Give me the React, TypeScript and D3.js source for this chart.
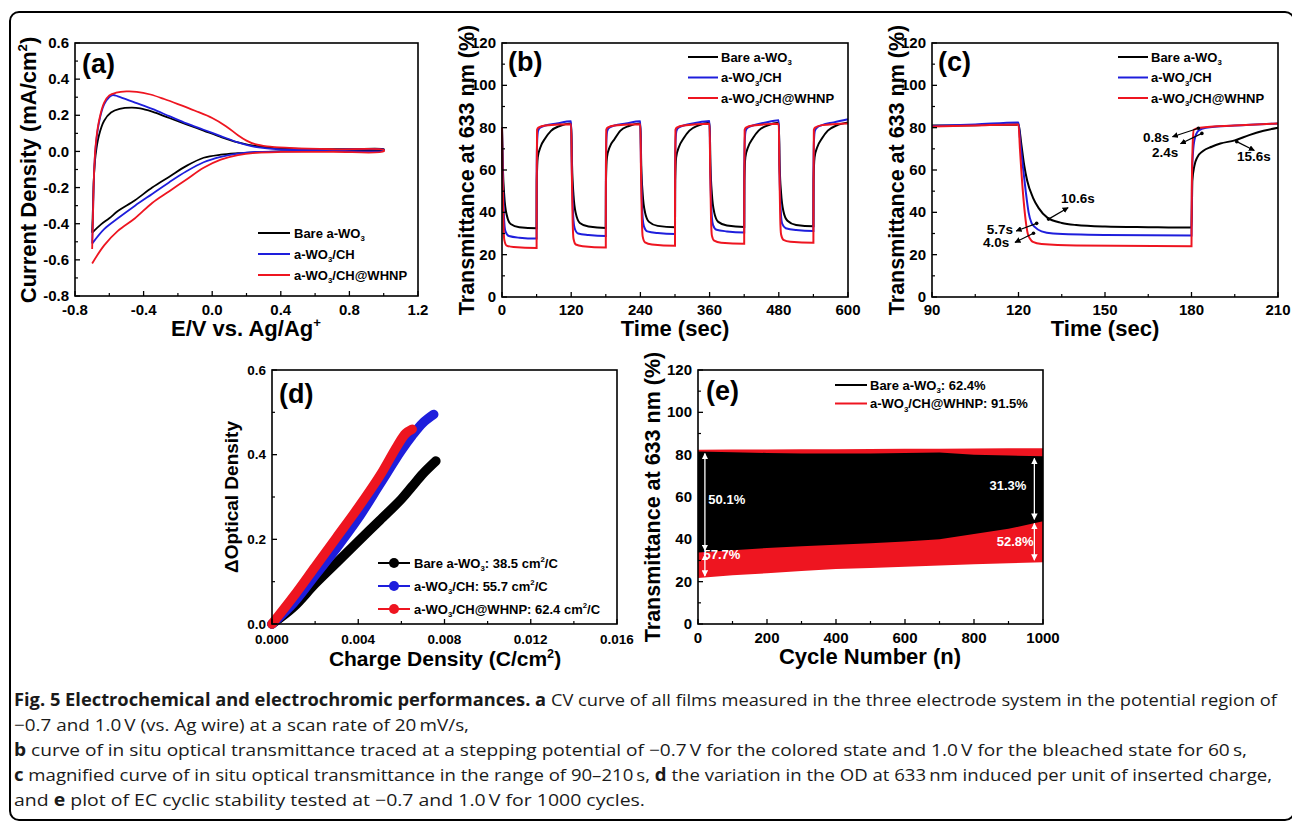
import React from "react";
import * as d3 from "d3";

type Pt = [number, number];
type Seg = { t: string; sub?: boolean; sup?: boolean };

const BLACK = "#000000";
const BLUE = "#1e1edc";
const RED = "#ee1520";
const FONT = "'Liberation Sans', Arial, Helvetica, sans-serif";
const CAPTION_FONT = "'Open Sans', 'Noto Sans', sans-serif";

// (a) cyclic voltammograms, [E (V), J (mA/cm2)] in scan order
const cvBare: Pt[] = [
  [-0.7, -0.45], [-0.695, -0.3], [-0.69, -0.15], [-0.68, -0.02], [-0.66, 0.09], [-0.63, 0.17],
  [-0.59, 0.215], [-0.54, 0.235], [-0.47, 0.242], [-0.42, 0.238], [-0.35, 0.22], [-0.25, 0.185],
  [-0.15, 0.15], [-0.05, 0.115], [0.05, 0.08], [0.15, 0.05], [0.25, 0.03], [0.4, 0.018],
  [0.6, 0.013], [0.8, 0.012], [1.0, 0.012],
  [1.0, 0.008], [0.8, 0.005], [0.6, 0.003], [0.4, 0.0], [0.25, -0.005], [0.15, -0.01],
  [0.05, -0.018], [-0.05, -0.035], [-0.15, -0.08], [-0.25, -0.14], [-0.35, -0.2],
  [-0.45, -0.27], [-0.55, -0.33], [-0.6, -0.37], [-0.65, -0.405], [-0.7, -0.45],
];
const cvBlue: Pt[] = [
  [-0.7, -0.51], [-0.695, -0.35], [-0.69, -0.15], [-0.68, 0.02], [-0.66, 0.16], [-0.63, 0.26],
  [-0.6, 0.3], [-0.58, 0.312], [-0.55, 0.305], [-0.45, 0.27], [-0.35, 0.235], [-0.25, 0.195],
  [-0.15, 0.155], [-0.05, 0.12], [0.05, 0.085], [0.15, 0.05], [0.25, 0.025], [0.35, 0.014],
  [0.5, 0.01], [0.7, 0.01], [1.0, 0.01],
  [1.0, 0.005], [0.7, 0.003], [0.4, 0.0], [0.25, -0.003], [0.15, -0.012], [0.05, -0.03],
  [-0.05, -0.06], [-0.15, -0.11], [-0.25, -0.17], [-0.35, -0.235], [-0.45, -0.3],
  [-0.55, -0.37], [-0.63, -0.43], [-0.7, -0.51],
];
const cvRed: Pt[] = [
  [-0.7, -0.54], [-0.695, -0.35], [-0.69, -0.15], [-0.68, 0.03], [-0.66, 0.17], [-0.63, 0.27],
  [-0.6, 0.31], [-0.56, 0.325], [-0.5, 0.332], [-0.44, 0.33], [-0.36, 0.315], [-0.28, 0.29],
  [-0.2, 0.262], [-0.1, 0.225], [0.0, 0.185], [0.08, 0.14], [0.15, 0.09], [0.2, 0.06],
  [0.25, 0.04], [0.32, 0.028], [0.45, 0.02], [0.7, 0.012], [1.0, 0.008],
  [1.0, 0.0], [0.7, -0.002], [0.4, -0.003], [0.25, -0.008], [0.15, -0.02], [0.05, -0.045],
  [-0.05, -0.09], [-0.15, -0.155], [-0.25, -0.22], [-0.35, -0.285], [-0.45, -0.37],
  [-0.55, -0.44], [-0.63, -0.52], [-0.7, -0.62],
];

// (b) transmittance over five switching cycles, [t (s), T (%)]
const swBare: Pt[] = [
  [0, 80], [1.5, 61], [4, 47.5], [8, 39], [15, 34.5], [30, 33], [60, 32.5],
  [60.3, 55], [62, 66], [67, 71], [75, 75], [85, 78.5], [100, 80.8], [120, 82],
  [121.5, 62], [124, 48], [128, 39.5], [135, 35], [150, 33.3], [180, 32.6],
  [180.3, 55], [182, 66], [187, 71], [195, 74.5], [205, 78.5], [220, 80.8], [240, 82],
  [241.5, 62], [244, 48.5], [248, 40], [255, 35.5], [270, 33.6], [300, 32.9],
  [300.3, 55], [302, 66], [307, 71], [315, 75], [325, 78.6], [340, 81], [360, 82.3],
  [361.5, 62], [364, 48.5], [368, 40], [375, 35.5], [390, 33.8], [420, 33.1],
  [420.3, 55], [422, 66], [427, 71], [435, 75], [445, 78.6], [460, 81], [480, 82.3],
  [481.5, 62], [484, 49], [488, 40.5], [495, 36], [510, 34], [540, 33.4],
  [540.3, 55], [542, 66], [547, 71], [555, 75], [565, 78.6], [580, 81], [600, 82.5],
];
const swBlue: Pt[] = [
  [0, 80], [1, 62], [2.5, 45], [4, 35], [6, 31], [12, 28.8], [30, 28], [60, 27.6],
  [60.2, 62], [61, 74], [62.5, 78.5], [66, 80], [75, 81], [95, 82], [120, 83],
  [121, 62], [122.5, 45], [124, 36], [126, 32.5], [132, 30], [150, 29.3], [180, 28.8],
  [180.2, 62], [181, 74], [182.5, 78.5], [186, 80], [195, 81], [215, 82], [240, 83],
  [241, 63], [242.5, 46], [244, 37], [246, 33.5], [252, 31], [270, 30.2], [300, 29.8],
  [300.2, 62], [301, 74], [302.5, 78.5], [306, 80], [315, 81], [335, 82.2], [360, 83.2],
  [361, 63], [362.5, 46], [364, 37.5], [366, 34], [372, 31.8], [390, 31], [420, 30.5],
  [420.2, 62], [421, 74], [422.5, 78.5], [426, 80], [435, 81], [455, 82.3], [480, 83.5],
  [481, 63], [482.5, 46], [484, 38], [486, 34.5], [492, 32.5], [510, 31.6], [540, 31.2],
  [540.2, 62], [541, 74], [542.5, 78.5], [546, 80], [555, 81.2], [575, 82.5], [600, 84],
];
const swRed: Pt[] = [
  [0, 80], [1, 58], [2.5, 35], [4, 27], [8, 24.3], [20, 23.6], [60, 23.2],
  [60.1, 50], [60.8, 79], [63, 80], [75, 81], [120, 81.6],
  [121, 60], [122.5, 36], [124, 27.5], [128, 24.8], [140, 24], [180, 23.4],
  [180.1, 50], [180.8, 79], [183, 80], [195, 81], [240, 81.6],
  [241, 60], [242.5, 37], [244, 28.5], [248, 25.8], [260, 24.8], [300, 24.2],
  [300.1, 50], [300.8, 79], [303, 80], [315, 81], [360, 81.8],
  [361, 60], [362.5, 37], [364, 29], [368, 26.6], [380, 25.6], [420, 25.1],
  [420.1, 50], [420.8, 79], [423, 80], [435, 81], [480, 81.8],
  [481, 60], [482.5, 37], [484, 29.5], [488, 27], [500, 26.1], [540, 25.6],
  [540.1, 50], [540.8, 79], [543, 80], [555, 81.2], [600, 82],
];

// (c) second cycle, 90-210 s
const zBare: Pt[] = [
  [90, 81], [105, 81.2], [120, 81.5], [121, 72], [122, 62], [123, 55], [125, 47], [127, 42],
  [130, 37.5], [135, 35], [140, 34], [150, 33.3], [165, 33], [180, 32.8], [180.3, 55],
  [181, 62], [182, 66], [184, 69], [187, 71], [190, 72.5], [195, 74], [200, 76.5],
  [205, 78.5], [210, 80],
];
const zBlue: Pt[] = [
  [90, 80.8], [105, 81.5], [120, 82.5], [120.5, 75], [121.5, 62], [122.5, 50], [123.5, 40],
  [124.5, 35], [125.7, 33], [128, 31], [132, 30], [150, 29.3], [180, 29], [180.2, 60],
  [181, 74], [182.4, 78.5], [185, 80], [195, 81], [210, 82],
];
const zRed: Pt[] = [
  [90, 80.5], [105, 81], [120, 81.5], [120.5, 70], [121.5, 50], [122.5, 36], [123.2, 30],
  [124, 27.5], [125, 26], [128, 25], [140, 24.3], [180, 24], [180.1, 50], [180.5, 75],
  [180.8, 79], [183, 80], [195, 81], [210, 82],
];
// response-time labels: text, arrow tail on curve, arrow head, text anchor point
const zNotes = [
  { label: "10.6s", from: [130.4, 36.8], to: [137.2, 42.2], at: [134.7, 44.4] },
  { label: "5.7s", from: [126.3, 34.8], to: [119.2, 31.2], at: [109, 30] },
  { label: "4.0s", from: [125.2, 30.1], to: [118.8, 25.8], at: [107.7, 23.4] },
  { label: "0.8s", from: [182.4, 79.7], to: [173.4, 75.7], at: [163.2, 73.2] },
  { label: "2.4s", from: [183.6, 77.3], to: [176.2, 72.4], at: [166.3, 66] },
  { label: "15.6s", from: [195.7, 73.4], to: [201.8, 69.2], at: [195.8, 64.2] },
];

// (d) delta OD vs inserted charge, [Q (C/cm2), dOD]
const odBare: Pt[] = [
  [0, 0], [0.001, 0.04], [0.002, 0.095], [0.003, 0.145], [0.004, 0.195], [0.005, 0.245],
  [0.006, 0.295], [0.0065, 0.325], [0.007, 0.355], [0.0076, 0.385],
];
const odBlue: Pt[] = [
  [0, 0], [0.001, 0.05], [0.002, 0.115], [0.003, 0.18], [0.004, 0.25], [0.005, 0.33],
  [0.006, 0.41], [0.0065, 0.445], [0.007, 0.475], [0.0075, 0.495],
];
const odRed: Pt[] = [
  [0, 0], [0.001, 0.065], [0.002, 0.135], [0.003, 0.205], [0.004, 0.275], [0.005, 0.35],
  [0.0058, 0.42], [0.0062, 0.45], [0.0065, 0.46],
];

// (e) bleached/colored envelopes over 1000 cycles
const eCycles = [0, 100, 200, 300, 400, 500, 600, 700, 800, 900, 1000];
const eBareTop = [81.5, 81.2, 80.8, 80.6, 80.5, 80.6, 80.8, 81, 80, 79.6, 79.2];
const eBareBottom = [33.8, 34.8, 35.9, 36.7, 37.4, 38.2, 39, 40, 42.5, 45, 48.5];
const eRedTop = [82.3, 82.4, 82.5, 82.6, 82.6, 82.7, 82.8, 82.8, 82.9, 83, 83];
const eRedBottom = [21.7, 23, 24, 25, 26, 26.5, 27, 27.6, 28.2, 28.7, 29.2];
const eNotes = [
  { label: "50.1%", n: 30, T: 56.5 },
  { label: "57.7%", n: 16, T: 30.5 },
  { label: "31.3%", n: 845, T: 63.5 },
  { label: "52.8%", n: 866, T: 36.8 },
];

// ticks
const A_X_TICKS = [-0.8, -0.4, 0, 0.4, 0.8, 1.2];
const A_X_MINOR = [-0.6, -0.2, 0.2, 0.6, 1.0];
const A_Y_TICKS = [-0.8, -0.6, -0.4, -0.2, 0, 0.2, 0.4, 0.6];
const A_Y_MINOR = [-0.7, -0.5, -0.3, -0.1, 0.1, 0.3, 0.5];
const T_Y_TICKS = [0, 20, 40, 60, 80, 100, 120];
const T_Y_MINOR = [10, 30, 50, 70, 90, 110];
const B_X_TICKS = [0, 120, 240, 360, 480, 600];
const B_X_MINOR = [60, 180, 300, 420, 540];
const C_X_TICKS = [90, 120, 150, 180, 210];
const C_X_MINOR = [105, 135, 165, 195];
const D_X_TICKS = [0, 0.004, 0.008, 0.012, 0.016];
const D_X_MINOR = [0.002, 0.006, 0.01, 0.014];
const D_Y_TICKS = [0, 0.2, 0.4, 0.6];
const D_Y_MINOR = [0.1, 0.3, 0.5];
const E_X_TICKS = [0, 200, 400, 600, 800, 1000];
const E_X_MINOR = [100, 300, 500, 700, 900];

// legend names
const N_BARE: Seg[] = [{ t: "Bare a-WO" }, { t: "3", sub: true }];
const N_CH: Seg[] = [{ t: "a-WO" }, { t: "3", sub: true }, { t: "/CH" }];
const N_WHNP: Seg[] = [{ t: "a-WO" }, { t: "3", sub: true }, { t: "/CH@WHNP" }];
const D_COLORATION = ["38.5", "55.7", "62.4"];
const E_RETENTION = ["62.4%", "91.5%"];

const CAPTION = [
  [
    { t: "Fig. 5 Electrochemical and electrochromic performances.", b: true },
    { t: " " },
    { t: "a", b: true },
    { t: " CV curve of all films measured in the three electrode system in the potential region of" },
  ],
  [{ t: "\u22120.7 and 1.0\u2009V (vs. Ag wire) at a scan rate of 20\u2009mV/s," }],
  [
    { t: "b", b: true },
    { t: " curve of in situ optical transmittance traced at a stepping potential of \u22120.7\u2009V for the colored state and 1.0\u2009V for the bleached state for 60\u2009s," },
  ],
  [
    { t: "c", b: true },
    { t: " magnified curve of in situ optical transmittance in the range of 90\u2013210\u2009s, " },
    { t: "d", b: true },
    { t: " the variation in the OD at 633\u2009nm induced per unit of inserted charge," },
  ],
  [
    { t: "and " },
    { t: "e", b: true },
    { t: " plot of EC cyclic stability tested at \u22120.7 and 1.0\u2009V for 1000 cycles." },
  ],
];

function Rich({ segs, fs }: { segs: Seg[]; fs: number }) {
  let shift = 0;
  return (
    <>
      {segs.map((s, i) => {
        const target = s.sub ? fs * 0.28 : s.sup ? -fs * 0.4 : 0;
        const dy = target - shift;
        shift = target;
        return (
          <tspan key={i} dy={dy || undefined} fontSize={s.sub || s.sup ? fs * 0.6 : undefined}>
            {s.t}
          </tspan>
        );
      })}
    </>
  );
}

function Axes({ xs, ys, xMajor, xMinor, yMajor, yMinor, fmtX, fmtY, fs, gap }: any) {
  const [x0, x1] = xs.range();
  const [yb, yt] = ys.range();
  return (
    <g fontSize={fs} fontWeight="bold">
      <rect x={x0} y={yt} width={x1 - x0} height={yb - yt} fill="none" stroke={BLACK} strokeWidth={1.6} />
      {xMinor.map((v: number) => (
        <line key={"xm" + v} x1={xs(v)} x2={xs(v)} y1={yb} y2={yb - 3} stroke={BLACK} strokeWidth={1.2} />
      ))}
      {yMinor.map((v: number) => (
        <line key={"ym" + v} x1={x0} x2={x0 + 3} y1={ys(v)} y2={ys(v)} stroke={BLACK} strokeWidth={1.2} />
      ))}
      {xMajor.map((v: number) => (
        <g key={"x" + v}>
          <line x1={xs(v)} x2={xs(v)} y1={yb} y2={yb - 5} stroke={BLACK} strokeWidth={1.3} />
          <text x={xs(v)} y={yb + gap} textAnchor="middle">{fmtX(v)}</text>
        </g>
      ))}
      {yMajor.map((v: number) => (
        <g key={"y" + v}>
          <line x1={x0} x2={x0 + 5} y1={ys(v)} y2={ys(v)} stroke={BLACK} strokeWidth={1.3} />
          <text x={x0 - 6} y={ys(v)} dy="0.34em" textAnchor="end">{fmtY(v)}</text>
        </g>
      ))}
    </g>
  );
}

function YTitle({ x, y, fs, segs }: { x: number; y: number; fs: number; segs: Seg[] }) {
  return (
    <text transform={`translate(${x},${y}) rotate(-90)`} textAnchor="middle" fontSize={fs} fontWeight="bold">
      <Rich segs={segs} fs={fs} />
    </text>
  );
}

function Legend({ items, x0, x1, tx, y0, dy, fs, dot }: any) {
  return (
    <g fontSize={fs} fontWeight="bold">
      {items.map((it: any, i: number) => (
        <g key={i}>
          <line x1={x0} x2={x1} y1={y0 + i * dy} y2={y0 + i * dy} stroke={it.color} strokeWidth={2} />
          {dot && <circle cx={(x0 + x1) / 2} cy={y0 + i * dy} r={5} fill={it.color} />}
          <text x={tx} y={y0 + i * dy} dy="0.35em">
            <Rich segs={it.segs} fs={fs} />
          </text>
        </g>
      ))}
    </g>
  );
}

const fmt1 = (v: number) => v.toFixed(1);
const fmtInt = (v: number) => String(v);

function PanelA() {
  const xs = d3.scaleLinear().domain([-0.8, 1.2]).range([75, 418]);
  const ys = d3.scaleLinear().domain([-0.8, 0.6]).range([296, 43]);
  const line = d3.line<Pt>().x((d) => xs(d[0])).y((d) => ys(d[1])).curve(d3.curveCatmullRom.alpha(0.5));
  return (
    <g>
      {[
        [cvBare, BLACK],
        [cvBlue, BLUE],
        [cvRed, RED],
      ].map(([d, c]: any, i) => (
        <path key={i} d={line(d) || ""} fill="none" stroke={c} strokeWidth={1.8} />
      ))}
      <Axes xs={xs} ys={ys} xMajor={A_X_TICKS} xMinor={A_X_MINOR} yMajor={A_Y_TICKS} yMinor={A_Y_MINOR}
        fmtX={fmt1} fmtY={fmt1} fs={15} gap={19} />
      <text x={82} y={73} fontSize={27} fontWeight="bold">(a)</text>
      <Legend x0={258} x1={290} tx={294} y0={233} dy={21} fs={13}
        items={[{ color: BLACK, segs: N_BARE }, { color: BLUE, segs: N_CH }, { color: RED, segs: N_WHNP }]} />
      <YTitle x={36} y={170} fs={22}
        segs={[{ t: "Current Density (mA/cm" }, { t: "2", sup: true }, { t: ")" }]} />
      <text x={246} y={336} textAnchor="middle" fontSize={22} fontWeight="bold">
        <Rich segs={[{ t: "E/V vs. Ag/Ag" }, { t: "+", sup: true }]} fs={22} />
      </text>
    </g>
  );
}

function TransmittancePanel({ x0, x1, domain, xMajor, xMinor, series, label, notes }: any) {
  const xs = d3.scaleLinear().domain(domain).range([x0, x1]);
  const ys = d3.scaleLinear().domain([0, 120]).range([297, 43]);
  const line = d3.line<Pt>().x((d) => xs(d[0])).y((d) => ys(d[1])).curve(d3.curveMonotoneX);
  return (
    <g>
      {series.map(([d, c]: any, i: number) => (
        <path key={i} d={line(d) || ""} fill="none" stroke={c} strokeWidth={2} />
      ))}
      {notes.map((n: any) => (
        <g key={n.label}>
          <line x1={xs(n.from[0])} y1={ys(n.from[1])} x2={xs(n.to[0])} y2={ys(n.to[1])}
            stroke={BLACK} strokeWidth={1.2} markerEnd="url(#headK)" />
          <circle cx={xs(n.from[0])} cy={ys(n.from[1])} r={1.8} fill={BLACK} />
          <text x={xs(n.at[0])} y={ys(n.at[1])} fontSize={13.5} fontWeight="bold">{n.label}</text>
        </g>
      ))}
      <Axes xs={xs} ys={ys} xMajor={xMajor} xMinor={xMinor} yMajor={T_Y_TICKS} yMinor={T_Y_MINOR}
        fmtX={fmtInt} fmtY={fmtInt} fs={15} gap={18} />
      <text x={x0 + 6} y={71} fontSize={27} fontWeight="bold">{label}</text>
      <Legend x0={x1 - 160} x1={x1 - 130} tx={x1 - 127} y0={57} dy={20.5} fs={13}
        items={[{ color: BLACK, segs: N_BARE }, { color: BLUE, segs: N_CH }, { color: RED, segs: N_WHNP }]} />
      <YTitle x={x0 - 28} y={170} fs={21.5} segs={[{ t: "Transmittance at 633 nm (%)" }]} />
      <text x={(x0 + x1) / 2} y={336} textAnchor="middle" fontSize={22} fontWeight="bold">Time (sec)</text>
    </g>
  );
}

function PanelD() {
  const xs = d3.scaleLinear().domain([0, 0.016]).range([272, 617]);
  const ys = d3.scaleLinear().domain([0, 0.6]).range([624, 370]);
  const line = d3.line<Pt>().x((d) => xs(d[0])).y((d) => ys(d[1])).curve(d3.curveCatmullRom.alpha(0.5));
  const series: any[] = [
    [odBare, BLACK, N_BARE],
    [odBlue, BLUE, N_CH],
    [odRed, RED, N_WHNP],
  ];
  return (
    <g>
      {series.map(([d, c], i) => (
        <path key={i} d={line(d) || ""} fill="none" stroke={c} strokeWidth={9.5} strokeLinecap="round" strokeLinejoin="round" />
      ))}
      <Axes xs={xs} ys={ys} xMajor={D_X_TICKS} xMinor={D_X_MINOR} yMajor={D_Y_TICKS} yMinor={D_Y_MINOR}
        fmtX={(v: number) => v.toFixed(3)} fmtY={fmt1} fs={13.5} gap={20} />
      <text x={279} y={403} fontSize={27} fontWeight="bold">(d)</text>
      <Legend x0={378} x1={410} tx={414} y0={563} dy={23} fs={13} dot
        items={series.map(([, c, segs], i) => ({
          color: c,
          segs: [...segs, { t: `: ${D_COLORATION[i]} cm` }, { t: "2", sup: true }, { t: "/C" }],
        }))} />
      <YTitle x={238} y={497} fs={19} segs={[{ t: "\u0394Optical Density" }]} />
      <text x={445} y={666} textAnchor="middle" fontSize={21} fontWeight="bold">
        <Rich segs={[{ t: "Charge Density (C/cm" }, { t: "2", sup: true }, { t: ")" }]} fs={21} />
      </text>
    </g>
  );
}

function PanelE() {
  const xs = d3.scaleLinear().domain([0, 1000]).range([698, 1043]);
  const ys = d3.scaleLinear().domain([0, 120]).range([624, 370]);
  const band = (top: number[], bottom: number[]) =>
    d3.area<number>()
      .x((d) => xs(d))
      .y0((_, i) => ys(bottom[i]))
      .y1((_, i) => ys(top[i]))(eCycles) || "";
  const last = eCycles.length - 1;
  const arrows = [
    [20, eBareTop[0], eBareBottom[0]],
    [20, eBareBottom[0], eRedBottom[0]],
    [975, eBareTop[last], eBareBottom[last]],
    [975, eBareBottom[last], eRedBottom[last]],
  ];
  return (
    <g>
      <path d={band(eRedTop, eRedBottom)} fill={RED} />
      <path d={band(eBareTop, eBareBottom)} fill={BLACK} />
      {arrows.map(([n, a, b], i) => (
        <line key={i} x1={xs(n)} x2={xs(n)} y1={ys(a) + 2} y2={ys(b) - 2} stroke="#fff" strokeWidth={1.3}
          markerStart="url(#headW)" markerEnd="url(#headW)" />
      ))}
      {eNotes.map((n) => (
        <text key={n.label} x={xs(n.n)} y={ys(n.T)} fontSize={13} fontWeight="bold" fill="#fff">{n.label}</text>
      ))}
      <Axes xs={xs} ys={ys} xMajor={E_X_TICKS} xMinor={E_X_MINOR} yMajor={T_Y_TICKS} yMinor={T_Y_MINOR}
        fmtX={fmtInt} fmtY={fmtInt} fs={15} gap={19} />
      <text x={706} y={400} fontSize={27} fontWeight="bold">(e)</text>
      <Legend x0={835} x1={867} tx={870} y0={385} dy={18.5} fs={13}
        items={[
          { color: BLACK, segs: [...N_BARE, { t: `: ${E_RETENTION[0]}` }] },
          { color: RED, segs: [...N_WHNP, { t: `: ${E_RETENTION[1]}` }] },
        ]} />
      <YTitle x={660} y={497} fs={21.5} segs={[{ t: "Transmittance at 633 nm (%)" }]} />
      <text x={870} y={664} textAnchor="middle" fontSize={22} fontWeight="bold">Cycle Number (n)</text>
    </g>
  );
}

function Caption() {
  const widths = [1263, 455, 1233, 1258, 631];
  return (
    <g fontFamily={CAPTION_FONT} fontSize={17} fill="#1a1a1a">
      {CAPTION.map((segs, i) => (
        <text key={i} x={14} y={706 + i * 25} textLength={widths[i]} lengthAdjust="spacingAndGlyphs">
          {segs.map((s: any, j: number) => (
            <tspan key={j} fontWeight={s.b ? 700 : 400}>{s.t}</tspan>
          ))}
        </text>
      ))}
    </g>
  );
}

export default function App() {
  return (
    <svg width={1292} height={824} fontFamily={FONT}
      style={{ position: "absolute", left: 0, top: 0, background: "#fff" }}>
      <defs>
        <marker id="headK" viewBox="0 0 10 10" refX="9" refY="5" markerWidth="5" markerHeight="5" orient="auto-start-reverse">
          <path d="M0,0 L10,5 L0,10 z" fill={BLACK} />
        </marker>
        <marker id="headW" viewBox="0 0 10 10" refX="9" refY="5" markerWidth="5" markerHeight="5" orient="auto-start-reverse">
          <path d="M0,0 L10,5 L0,10 z" fill="#fff" />
        </marker>
      </defs>
      <rect x={0} y={0} width={1292} height={824} fill="#fff" />
      <rect x={10} y={12} width={1284} height={808} rx={9} fill="none" stroke={BLACK} strokeWidth={2} />
      <PanelA />
      <TransmittancePanel x0={502} x1={848} domain={[0, 600]} xMajor={B_X_TICKS} xMinor={B_X_MINOR}
        label="(b)" notes={[]}
        series={[[swBare, BLACK], [swBlue, BLUE], [swRed, RED]]} />
      <TransmittancePanel x0={932} x1={1278} domain={[90, 210]} xMajor={C_X_TICKS} xMinor={C_X_MINOR}
        label="(c)" notes={zNotes}
        series={[[zBare, BLACK], [zBlue, BLUE], [zRed, RED]]} />
      <PanelD />
      <PanelE />
      <Caption />
    </svg>
  );
}
